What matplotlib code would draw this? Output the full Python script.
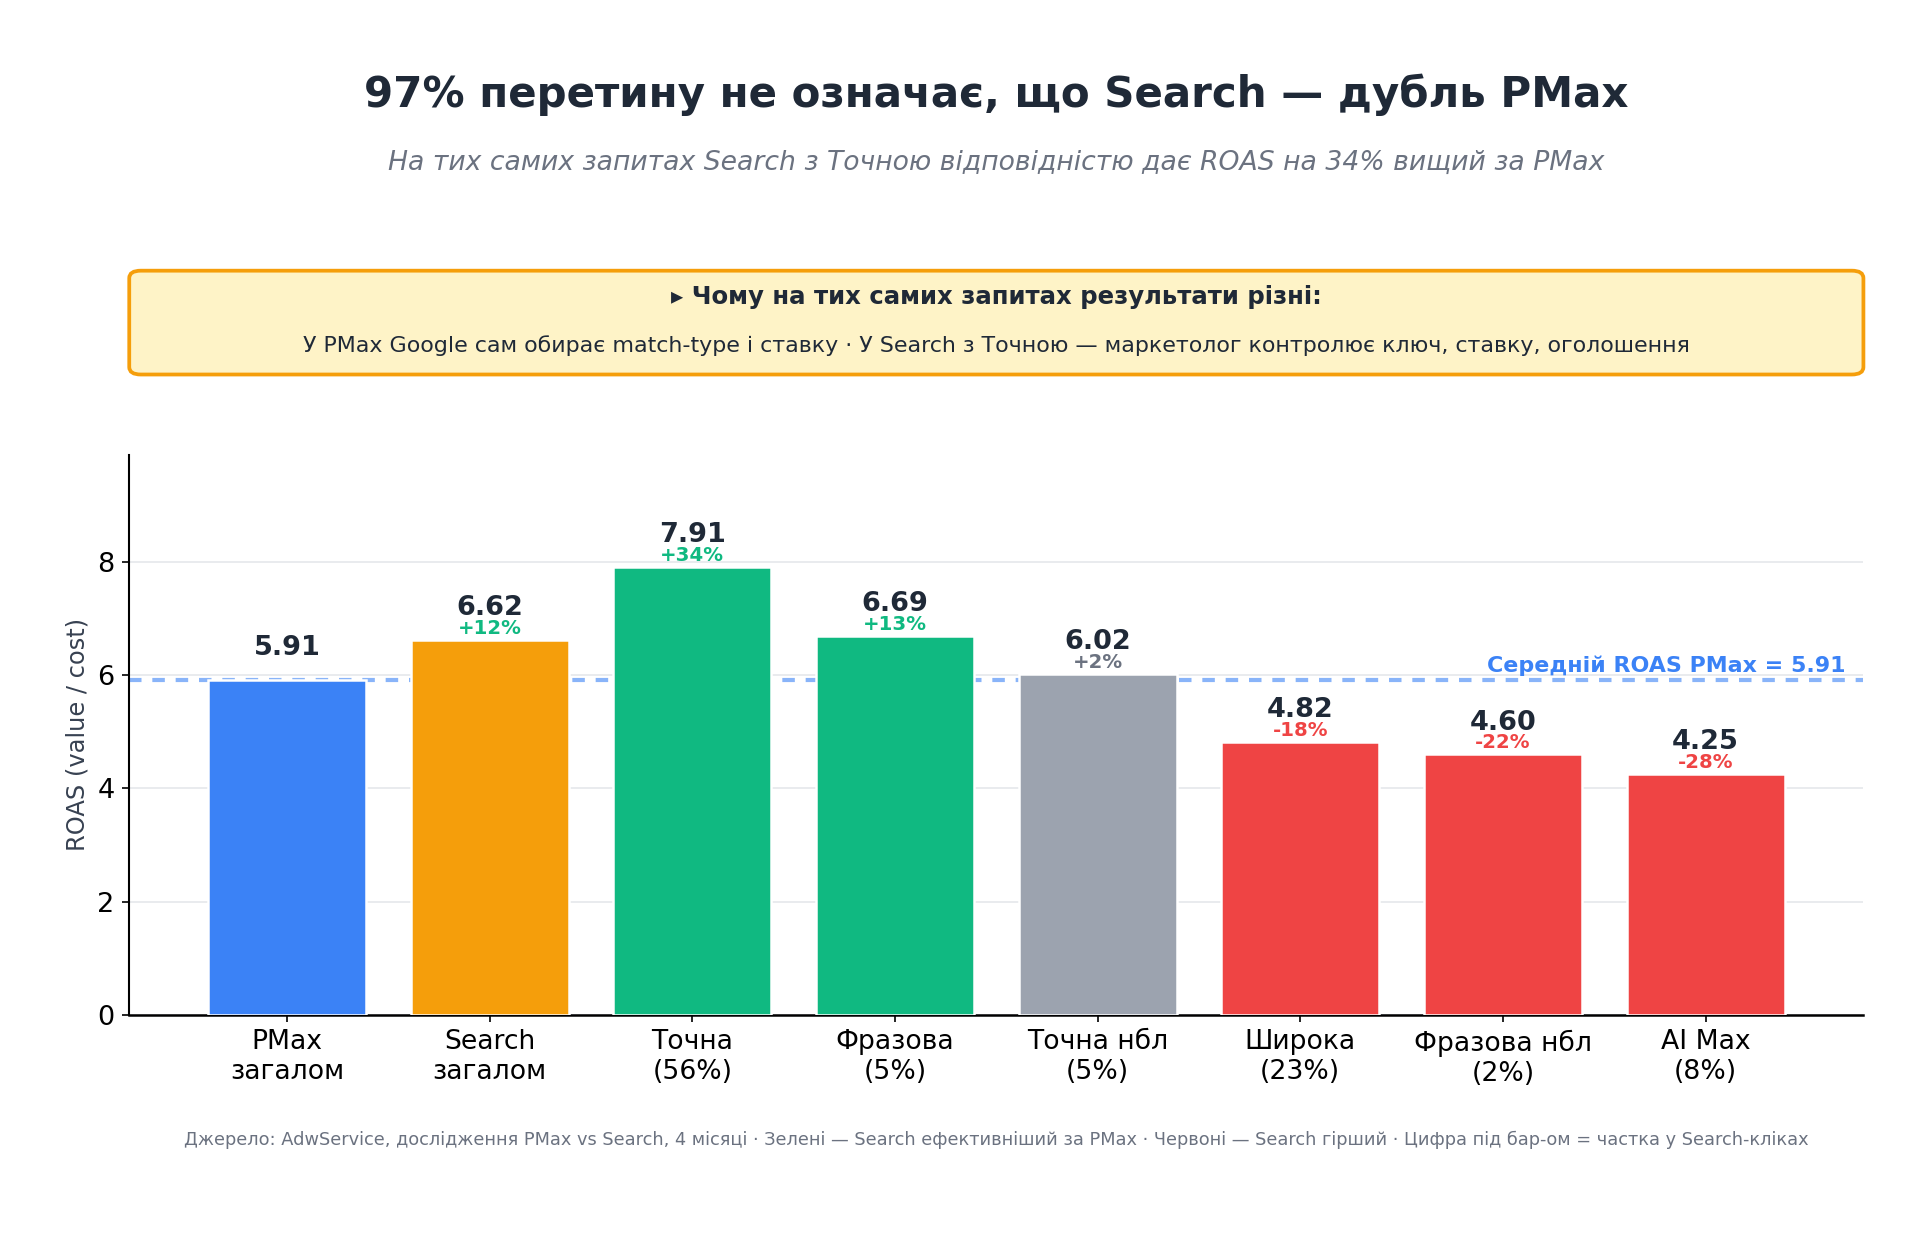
import matplotlib
matplotlib.use("Agg")
import matplotlib.pyplot as plt
from matplotlib.patches import FancyBboxPatch

categories = ["PMax\nзагалом", "Search\nзагалом", "Точна\n(56%)", "Фразова\n(5%)",
              "Точна нбл\n(5%)", "Широка\n(23%)", "Фразова нбл\n(2%)", "AI Max\n(8%)"]
roas = [5.91, 6.62, 7.91, 6.69, 6.02, 4.82, 4.60, 4.25]
delta_labels = ["", "+12%", "+34%", "+13%", "+2%", "-18%", "-22%", "-28%"]
bar_colors = ["#3B82F6", "#F59E0B", "#10B981", "#10B981", "#9CA3AF", "#EF4444", "#EF4444", "#EF4444"]
delta_colors = ["#6B7280", "#10B981", "#10B981", "#10B981", "#6B7280", "#EF4444", "#EF4444", "#EF4444"]
pmax_avg = 5.91

title = "97% перетину не означає, що Search — дубль PMax"
subtitle = "На тих самих запитах Search з Точною відповідністю дає ROAS на 34% вищий за PMax"
box_head = "▸ Чому на тих самих запитах результати різні:"
box_body = "У PMax Google сам обирає match-type і ставку · У Search з Точною — маркетолог контролює ключ, ставку, оголошення"
footer = ("Джерело: AdwService, дослідження PMax vs Search, 4 місяці · Зелені — Search ефективніший за PMax · "
          "Червоні — Search гірший · Цифра під бар-ом = частка у Search-кліках")
avg_label = "Середній ROAS PMax = 5.91"

plt.rcParams['font.family'] = ['DejaVu Sans']
fig = plt.figure(figsize=(12.86, 8.24), dpi=150)
fig.patch.set_facecolor("white")

AX_L, AX_R, AX_B, AX_T = 0.067, 0.966, 0.179, 0.632
ax = fig.add_axes([AX_L, AX_B, AX_R - AX_L, AX_T - AX_B])
x = list(range(len(categories)))
ax.bar(x, roas, width=0.78, color=bar_colors, edgecolor="white", linewidth=1.2, zorder=3)
ax.axhline(pmax_avg, color="#3B82F6", alpha=0.6, linestyle="--", linewidth=2,
           dashes=(3, 2.6), zorder=2)
ax.set_ylim(0, max(roas) * 1.25)
ax.set_xticks(x)
ax.set_xticklabels(categories, fontsize=12.8)
ax.tick_params(axis="y", labelsize=13)
ax.set_ylabel("ROAS (value / cost)", fontsize=11.6, color="#374151")
ax.grid(axis="y", color="#E5E7EB", linewidth=0.8, zorder=0)
ax.set_axisbelow(True)
for s in ["top", "right"]:
    ax.spines[s].set_visible(False)
ax.spines["left"].set_linewidth(1.0)
ax.spines["bottom"].set_linewidth(1.2)

for xi, v, d, dc in zip(x, roas, delta_labels, delta_colors):
    ax.text(xi, v + 0.33, f"{v:.2f}", ha="center", va="bottom", fontsize=13,
            fontweight="bold", color="#1F2937", zorder=5)
    if d:
        ax.text(xi, v + 0.04, d, ha="center", va="bottom", fontsize=9.5,
                fontweight="bold", color=dc, zorder=5)

ax.text(len(categories) - 0.31, pmax_avg + 0.08, avg_label, ha="right", va="bottom",
        fontsize=10.6, fontweight="bold", color="#3B82F6", zorder=5)

cx = (AX_L + AX_R) / 2
fig.text(cx, 0.923, title, ha="center", va="center", fontsize=20.2, fontweight="bold", color="#1F2937")
fig.text(cx, 0.868, subtitle, ha="center", va="center", fontsize=12.8, style="italic", color="#6B7280")

box = FancyBboxPatch((AX_L, 0.697), AX_R - AX_L, 0.084, boxstyle="round,pad=0,rounding_size=0.006",
                     transform=fig.transFigure, facecolor="#FEF3C7", edgecolor="#F59E0B",
                     linewidth=1.8, zorder=1)
fig.patches.append(box)
fig.text(cx, 0.760, box_head, ha="center", va="center", fontsize=11.7, fontweight="bold", color="#1F2937")
fig.text(cx, 0.720, box_body, ha="center", va="center", fontsize=10.65, color="#1F2937")

fig.text(cx, 0.0776, footer, ha="center", va="center", fontsize=8.5, color="#6B7280")

fig.savefig("out.png", dpi=150, facecolor="white")
